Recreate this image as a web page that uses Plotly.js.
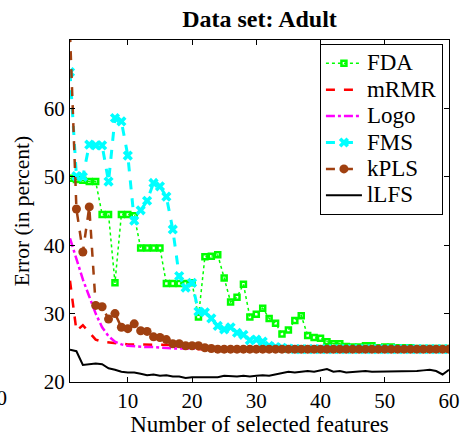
<!DOCTYPE html>
<html>
<head>
<meta charset="utf-8">
<script src="https://cdn.plot.ly/plotly-3.0.1.min.js"></script>
<style>
  html, body { margin: 0; padding: 0; background: #fff; }
  #chart { width: 463px; height: 437px; }
</style>
</head>
<body>
<div id="chart"></div>
<script>
// Number of selected features (1..60)
const features = Array.from({length: 60}, (_, i) => i + 1);

// Classification error (percent) per method
const fda = [49.8, 49.6, 49.5, 49.3, 49.3, 44.5, 44.5, 34.5, 44.5, 44.5,
             44.3, 39.6, 39.6, 39.6, 39.6, 34.4, 34.4, 34.4, 34.4, 34.5,
             29.5, 38.3, 38.4, 38.6, 35.2, 31.7, 32.4, 34.3, 29.5, 29.9,
             30.8, 29.3, 28.6, 27.0, 27.6, 29.0, 29.7, 26.8, 26.5, 26.4,
             25.9, 25.6, 25.6, 25.2, 25.1, 25.1, 25.3, 25.3, 25.0, 25.1,
             25.1, 25.0, 25.0, 25.0, 24.9, 24.9, 24.9, 24.9, 24.9, 24.9];

const mrmr = [34.8, 27.5, 28.3, 27.2, 26.2, 25.9, 25.8, 25.6, 25.5, 25.5,
              25.5, 25.5, 25.5, 25.5, 25.5, 25.5, 25.5, 25.4, 25.2, 25.0,
              24.8, 24.8, 24.8, 24.8, 24.8, 24.8, 24.8, 24.8, 24.8, 24.8,
              24.8, 24.8, 24.8, 24.8, 24.8, 24.8, 24.8, 24.8, 24.8, 24.8,
              24.8, 24.8, 24.8, 24.8, 24.8, 24.8, 24.8, 24.8, 24.8, 24.8,
              24.8, 24.8, 24.8, 24.8, 24.8, 24.8, 24.8, 24.8, 24.8, 24.8];

const logo = [41.0, 38.0, 35.0, 32.5, 30.0, 28.0, 26.7, 25.9, 25.5, 25.3,
              25.2, 25.1, 25.1, 25.1, 25.0, 25.0, 24.9, 24.9, 24.9, 24.8,
              24.8, 24.8, 24.8, 24.8, 24.8, 24.8, 24.8, 24.8, 24.8, 24.8,
              24.8, 24.8, 24.8, 24.8, 24.8, 24.8, 24.8, 24.8, 24.8, 24.8,
              24.8, 24.8, 24.8, 24.8, 24.8, 24.8, 24.8, 24.8, 24.8, 24.8,
              24.8, 24.8, 24.8, 24.8, 24.8, 24.8, 24.8, 24.8, 24.8, 24.8];

const fms = [65.3, 50.1, 50.0, 54.7, 54.6, 54.6, 49.3, 58.6, 58.1, 53.1,
             43.6, 45.1, 46.5, 49.1, 48.6, 47.1, 42.3, 35.5, 33.8, 34.5,
             30.3, 30.2, 29.3, 28.2, 27.7, 28.0, 27.2, 26.9, 26.1, 26.2,
             25.9, 25.3, 25.1, 25.0, 24.9, 24.8, 24.8, 24.8, 24.8, 24.8,
             24.8, 24.8, 24.8, 24.8, 24.8, 24.8, 24.8, 24.8, 24.8, 24.8,
             24.8, 24.8, 24.8, 24.8, 24.8, 24.8, 24.8, 24.8, 24.8, 24.8];

const kpls = [71.0, 45.3, 39.0, 45.6, 31.2, 31.0, 29.2, 30.0, 28.0, 27.8,
              28.5, 27.5, 27.4, 26.6, 26.5, 26.2, 25.6, 25.6, 25.3, 25.3,
              25.3, 25.0, 24.9, 24.8, 24.8, 24.8, 24.8, 24.8, 24.8, 24.8,
              24.8, 24.8, 24.8, 24.8, 24.8, 24.8, 24.8, 24.8, 24.8, 24.8,
              24.8, 24.8, 24.8, 24.8, 24.8, 24.8, 24.8, 24.8, 24.8, 24.8,
              24.8, 24.8, 24.8, 24.8, 24.8, 24.8, 24.8, 24.8, 24.8, 24.8];

const llfs = [24.7, 24.5, 22.5, 22.6, 22.7, 22.6, 22.0, 21.8, 21.5, 21.4,
              21.4, 21.2, 21.0, 21.1, 20.9, 21.0, 20.8, 20.8, 20.6, 20.7,
              20.7, 20.8, 20.8, 20.7, 20.9, 20.8, 20.8, 20.9, 20.8, 20.9,
              21.0, 20.9, 21.1, 21.3, 21.5, 21.4, 21.5, 21.6, 21.5, 21.7,
              21.9, 21.5, 21.6, 21.4, 21.5, 21.6, 21.6, 21.5, 21.5, 21.6,
              21.5, 21.6, 21.6, 21.5, 21.6, 21.7, 21.8, 21.6, 21.1, 21.8];

const methodNames = ['FDA', 'mRMR', 'Logo', 'FMS', 'kPLS', 'lLFS'];
const xTicks = [10, 20, 30, 40, 50, 60];
const yTicks = [20, 30, 40, 50, 60];

const serif = "'Liberation Serif', 'Times New Roman', Times, serif";

// legend labels are set a little larger than the legend row pitch
const legendLabel = name => '<span style="font-size:23px">' + name + '</span>';

const traces = [
  {
    name: legendLabel(methodNames[0]), x: features, y: fda, mode: 'lines+markers',
    line: {color: '#00ff00', width: 1.5, dash: 'dot'},
    marker: {symbol: 'square-open', size: 5, color: '#00ff00', line: {color: '#00ff00', width: 2.5}}
  },
  {
    name: legendLabel(methodNames[1]), x: features, y: mrmr, mode: 'lines',
    line: {color: '#ff0000', width: 2.5, dash: 'dash'}
  },
  {
    name: legendLabel(methodNames[2]), x: features, y: logo, mode: 'lines',
    line: {color: '#ff00ff', width: 2.5, dash: 'dashdot'}
  },
  {
    name: legendLabel(methodNames[3]), x: features, y: fms, mode: 'lines+markers',
    line: {color: '#00ffff', width: 3, dash: 'dash'},
    marker: {symbol: 'x', size: 9, color: '#00ffff'}
  },
  {
    name: legendLabel(methodNames[4]), x: features, y: kpls, mode: 'lines+markers',
    line: {color: '#a04010', width: 2.5, dash: 'dash'},
    marker: {symbol: 'circle', size: 9, color: '#a04010'}
  },
  {
    name: legendLabel(methodNames[5]), x: features, y: llfs, mode: 'lines',
    line: {color: '#000000', width: 2}
  }
];

const layout = {
  width: 463, height: 437,
  margin: {l: 70, r: 14, t: 40, b: 55},
  paper_bgcolor: '#ffffff', plot_bgcolor: '#ffffff',
  font: {family: serif, size: 21, color: '#000'},
  title: {text: '<b>Data set: Adult</b>', font: {family: serif, size: 24, color: '#000'},
          x: 0.5, xref: 'paper', xanchor: 'center', y: 0.977, yref: 'container'},
  xaxis: {
    range: [1, 60], tickvals: xTicks, ticktext: xTicks.map(String),
    ticks: 'inside', ticklen: 5, tickcolor: '#000', mirror: 'ticks',
    showline: true, linecolor: '#000', linewidth: 1,
    showgrid: false, zeroline: false,
    tickfont: {family: serif, size: 21, color: '#000'},
    title: {text: 'Number of selected features', font: {family: serif, size: 23, color: '#000'}, standoff: 3}
  },
  yaxis: {
    range: [20, 70], tickvals: yTicks, ticktext: yTicks.map(String),
    ticks: 'inside', ticklen: 5, tickcolor: '#000', mirror: 'ticks',
    showline: true, linecolor: '#000', linewidth: 1,
    showgrid: false, zeroline: false,
    tickfont: {family: serif, size: 21, color: '#000'},
    title: {text: 'Error (in percent)', font: {family: serif, size: 21.5, color: '#000'}, standoff: 8}
  },
  legend: {
    x: 0.984, y: 0.988, xanchor: 'right', yanchor: 'top',
    bgcolor: '#ffffff', bordercolor: '#000', borderwidth: 1,
    font: {family: serif, size: 18, color: '#000'},
    itemwidth: 36
  },
  annotations: [
    {text: '60', xref: 'paper', yref: 'paper', x: -0.161, y: -0.047,
     xanchor: 'right', yanchor: 'middle', showarrow: false,
     font: {family: serif, size: 21, color: '#000'}}
  ]
};

Plotly.newPlot('chart', traces, layout, {displayModeBar: false, staticPlot: true});
</script>
</body>
</html>
